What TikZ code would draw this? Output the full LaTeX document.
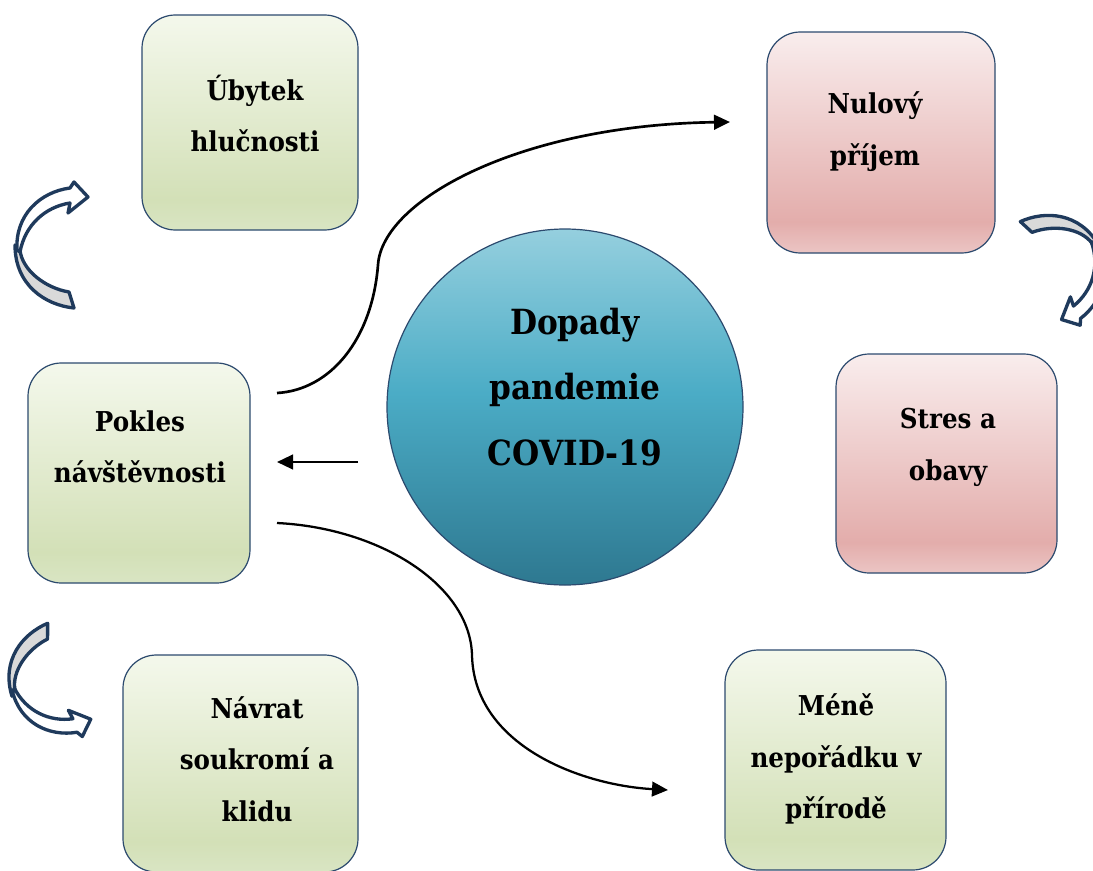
\documentclass[tikz,border=0pt]{standalone}
\usepackage{fontspec}
\setmainfont{DejaVu Serif Condensed}
\usetikzlibrary{arrows.meta}
\definecolor{navy}{HTML}{1F3A5C}
\definecolor{boxline}{HTML}{2C4A6E}
\pgfdeclareverticalshading{greenfill}{100bp}{rgb(0bp)=(0.851,0.898,0.765); rgb(25bp)=(0.851,0.898,0.765); rgb(32bp)=(0.827,0.878,0.718); rgb(75bp)=(0.957,0.973,0.925); rgb(100bp)=(0.957,0.973,0.925)}
\pgfdeclareverticalshading{redfill}{100bp}{rgb(0bp)=(0.922,0.773,0.769); rgb(25bp)=(0.922,0.773,0.769); rgb(32bp)=(0.890,0.678,0.671); rgb(75bp)=(0.976,0.929,0.929); rgb(100bp)=(0.976,0.929,0.929)}
\pgfdeclareverticalshading{bluefill}{100bp}{rgb(0bp)=(0.180,0.471,0.565); rgb(25bp)=(0.180,0.471,0.565); rgb(52bp)=(0.294,0.675,0.776); rgb(75bp)=(0.584,0.812,0.871); rgb(100bp)=(0.584,0.812,0.871)}
\begin{document}
\begin{tikzpicture}[x=0.75pt, y=-0.75pt,
    card/.style={draw=boxline, line width=0.9pt, rounded corners=25pt, inner sep=0pt},
    greencard/.style={card, shading=greenfill},
    redcard/.style={card, shading=redfill},
    txt/.style={font=\bfseries\fontsize{20.5}{38.5}\selectfont, align=center},
    conn/.style={-{Triangle[length=12pt,width=11pt]}, line width=1.7pt},
    bentarrow/.pic={
      \filldraw[fill=gray!30, draw=navy, line width=2.5pt, line join=round]
        (-35,0) .. controls (-35,40) and (-5,60) .. (24,63) -- (19,47)
        .. controls (-5,43) and (-28,25) .. (-30,5) -- cycle;
      \filldraw[fill=white, draw=navy, line width=2.5pt, line join=round]
        (-33,5) .. controls (-35,-30) and (-10,-53) .. (20,-57) -- (24,-63) -- (38,-48)
        -- (18,-32) -- (20,-42) .. controls (-5,-38) and (-25,-20) .. (-30,7) -- cycle;
    }]
  \useasboundingbox (0,0) rectangle (1093,871);

  % boxes
  \node[greencard, minimum width=162pt, minimum height=161.25pt] (ubytek) at (250,122.5) {};
  \node[redcard, minimum width=171pt, minimum height=165.75pt] (nulovy) at (881,142.5) {};
  \node[redcard, minimum width=165.75pt, minimum height=164.25pt] (stres) at (946.5,463.5) {};
  \node[greencard, minimum width=166.5pt, minimum height=165pt] (pokles) at (139,473) {};
  \node[greencard, minimum width=176.25pt, minimum height=162.75pt] (navrat) at (240.5,763.5) {};
  \node[greencard, minimum width=165.75pt, minimum height=165pt] (mene) at (835.5,760) {};
  \node[circle, draw=boxline, line width=0.9pt, shading=bluefill, minimum size=267pt, inner sep=0pt] (dopady) at (565,407) {};

  % texts
  \node[txt] (ubytek-t) at (255,113.5) {Úbytek\\hlučnosti};
  \node[txt] (nulovy-t) at (875,131.5) {Nulový\\příjem};
  \node[txt] (stres-t) at (948,447.5) {Stres a\\obavy};
  \node[txt] (pokles-t) at (140,446.5) {Pokles\\návštěvnosti};
  \node[txt] (navrat-t) at (257,759) {Návrat\\soukromí a\\klidu};
  \node[txt] (mene-t) at (836,759) {Méně\\nepořádku v\\přírodě};
  \node[font=\bfseries\fontsize{26}{49}\selectfont, align=center] (dopady-t) at (575,387) {Dopady\\pandemie\\COVID-19};

  % connectors
  \coordinate (a1) at (277,393);
  \coordinate (a2) at (378,265);
  \coordinate (a3) at (730,122);
  \coordinate (b1) at (358,462);
  \coordinate (b2) at (277,462);
  \coordinate (c1) at (277,523);
  \coordinate (c2) at (472,655);
  \coordinate (c3) at (668,790);
  \draw[conn, line width=2pt] (a1) .. controls (330,390) and (372,340) .. (a2)
    .. controls (382,200) and (520,125) .. (a3);
  \draw[conn] (b1) -- (b2);
  \draw[conn] (c1) .. controls (380,528) and (470,585) .. (c2)
    .. controls (474,745) and (580,785) .. (c3);

  % bent arrows
  \pic at (50,245) {bentarrow};
  \pic[rotate=-150, scale=0.95] at (1070,262) {bentarrow};
  \pic[rotate=17, xscale=0.94, yscale=-0.94] at (43.4,686.5) {bentarrow};
\end{tikzpicture}
\end{document}
